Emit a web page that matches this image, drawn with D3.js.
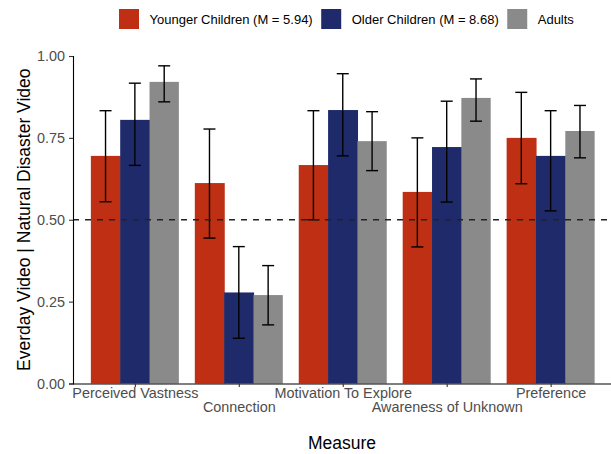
<!DOCTYPE html>
<html>
<head>
<meta charset="utf-8">
<script src="https://cdn.jsdelivr.net/npm/d3@7"></script>
<style>
  body { margin: 0; background: #fff; }
  svg { display: block; font-family: "Liberation Sans", Arial, Helvetica, sans-serif; }
</style>
</head>
<body>
<div id="chart"></div>
<script>
// measures on the x axis
const measures = ["Perceived Vastness", "Connection", "Motivation To Explore", "Awareness of Unknown", "Preference"];
const groups = ["Younger Children (M = 5.94)", "Older Children (M = 8.68)", "Adults"];
const colors = ["#BE2F14", "#1F2A6B", "#8A8A8A"];

// proportion choosing the everyday video, one array per group
const youngerMean = [0.695, 0.612, 0.667, 0.585, 0.750];
const youngerLow  = [0.555, 0.444, 0.500, 0.417, 0.610];
const youngerHigh = [0.833, 0.777, 0.833, 0.750, 0.889];

const olderMean = [0.805, 0.278, 0.835, 0.722, 0.695];
const olderLow  = [0.666, 0.138, 0.695, 0.554, 0.527];
const olderHigh = [0.917, 0.418, 0.946, 0.862, 0.833];

const adultMean = [0.921, 0.270, 0.740, 0.872, 0.771];
const adultLow  = [0.860, 0.179, 0.650, 0.801, 0.689];
const adultHigh = [0.970, 0.360, 0.830, 0.930, 0.849];

const yTicks = [0, 0.25, 0.5, 0.75, 1];
const chanceLevel = 0.5;

const width = 611, height = 454;
const margin = {top: 56, right: 0, bottom: 70.5, left: 73};

const means = [youngerMean, olderMean, adultMean];
const lows = [youngerLow, olderLow, adultLow];
const highs = [youngerHigh, olderHigh, adultHigh];

const rows = [];
measures.forEach((m, i) => {
    groups.forEach((g, j) => {
        rows.push({measure: m, group: g, gi: j, mean: means[j][i], low: lows[j][i], high: highs[j][i]});
    });
});

const svg = d3.select("#chart").append("svg")
    .attr("width", width)
    .attr("height", height);

const x = d3.scalePoint()
    .domain(measures)
    .range([72.5, 613])
    .padding(0.6);

const xSub = d3.scaleBand()
    .domain(groups)
    .range([-44, 44]);

const y = d3.scaleLinear()
    .domain([0, 1])
    .range([height - margin.bottom, margin.top]);

// bars (a hair wider so neighbours touch without seams)
svg.append("g").selectAll("rect")
    .data(rows)
    .enter().append("rect")
    .attr("x", d => x(d.measure) + xSub(d.group))
    .attr("y", d => y(d.mean))
    .attr("width", d => xSub.bandwidth() + (d.gi < 2 ? 0.6 : 0))
    .attr("height", d => y(0) - y(d.mean))
    .attr("fill", d => colors[d.gi]);

// error bars
const eb = svg.append("g").selectAll("g")
    .data(rows)
    .enter().append("g")
    .attr("stroke", "#000")
    .attr("stroke-width", 1.4);

const cx = d => x(d.measure) + xSub(d.group) + xSub.bandwidth() / 2;
eb.append("line")
    .attr("x1", cx).attr("x2", cx)
    .attr("y1", d => y(d.low)).attr("y2", d => y(d.high));
eb.append("line")
    .attr("x1", d => cx(d) - 6).attr("x2", d => cx(d) + 6)
    .attr("y1", d => y(d.high)).attr("y2", d => y(d.high));
eb.append("line")
    .attr("x1", d => cx(d) - 6).attr("x2", d => cx(d) + 6)
    .attr("y1", d => y(d.low)).attr("y2", d => y(d.low));

// dashed line at chance
svg.append("line")
    .attr("x1", margin.left).attr("x2", 607)
    .attr("y1", y(chanceLevel)).attr("y2", y(chanceLevel))
    .attr("stroke", "#222")
    .attr("stroke-width", 1.4)
    .attr("stroke-dasharray", "6,6");

// y axis
const yAxis = svg.append("g")
    .attr("transform", `translate(${margin.left},0)`)
    .call(d3.axisLeft(y).tickValues(yTicks).tickFormat(d3.format(".2f")).tickSize(4).tickPadding(4));
yAxis.select(".domain").attr("stroke", "#000").attr("stroke-width", 1.1);
yAxis.selectAll(".tick line").attr("stroke", "#333").attr("stroke-width", 1.1);
yAxis.selectAll(".tick text").attr("fill", "#4D4D4D").attr("font-size", "14.4px").attr("font-family", null);

// x axis with staggered labels
const xAxis = svg.append("g")
    .attr("transform", `translate(0,${y(0)})`)
    .call(d3.axisBottom(x).tickSize(3.5).tickSizeOuter(0));
xAxis.select(".domain").attr("d", `M${margin.left},0.5H${width}`).attr("stroke", "#000").attr("stroke-width", 1.1);
xAxis.selectAll(".tick line").attr("stroke", "#333").attr("stroke-width", 1.1);
xAxis.selectAll(".tick text")
    .attr("fill", "#4D4D4D")
    .attr("font-size", "14.4px")
    .attr("font-family", null)
    .attr("dy", null)
    .attr("y", (d, i) => i % 2 === 0 ? 14 : 28);

// axis titles
svg.append("text")
    .attr("x", (margin.left + width) / 2)
    .attr("y", 449)
    .attr("text-anchor", "middle")
    .attr("font-size", "17.5px")
    .text("Measure");

svg.append("text")
    .attr("transform", `translate(30,${(y(0) + y(1)) / 2}) rotate(-90)`)
    .attr("text-anchor", "middle")
    .attr("font-size", "17.5px")
    .text("Everday Video | Natural Disaster Video");

// legend
const legend = svg.append("g");
let lx = 119;
groups.forEach((g, j) => {
    legend.append("rect")
        .attr("x", lx).attr("y", 9)
        .attr("width", 20).attr("height", 20)
        .attr("fill", colors[j]);
    const t = legend.append("text")
        .attr("x", lx + 30.5).attr("y", 23.5)
        .attr("font-size", "13px")
        .text(g);
    lx += 30.5 + t.node().getComputedTextLength() + 8.5;
});
</script>
</body>
</html>
